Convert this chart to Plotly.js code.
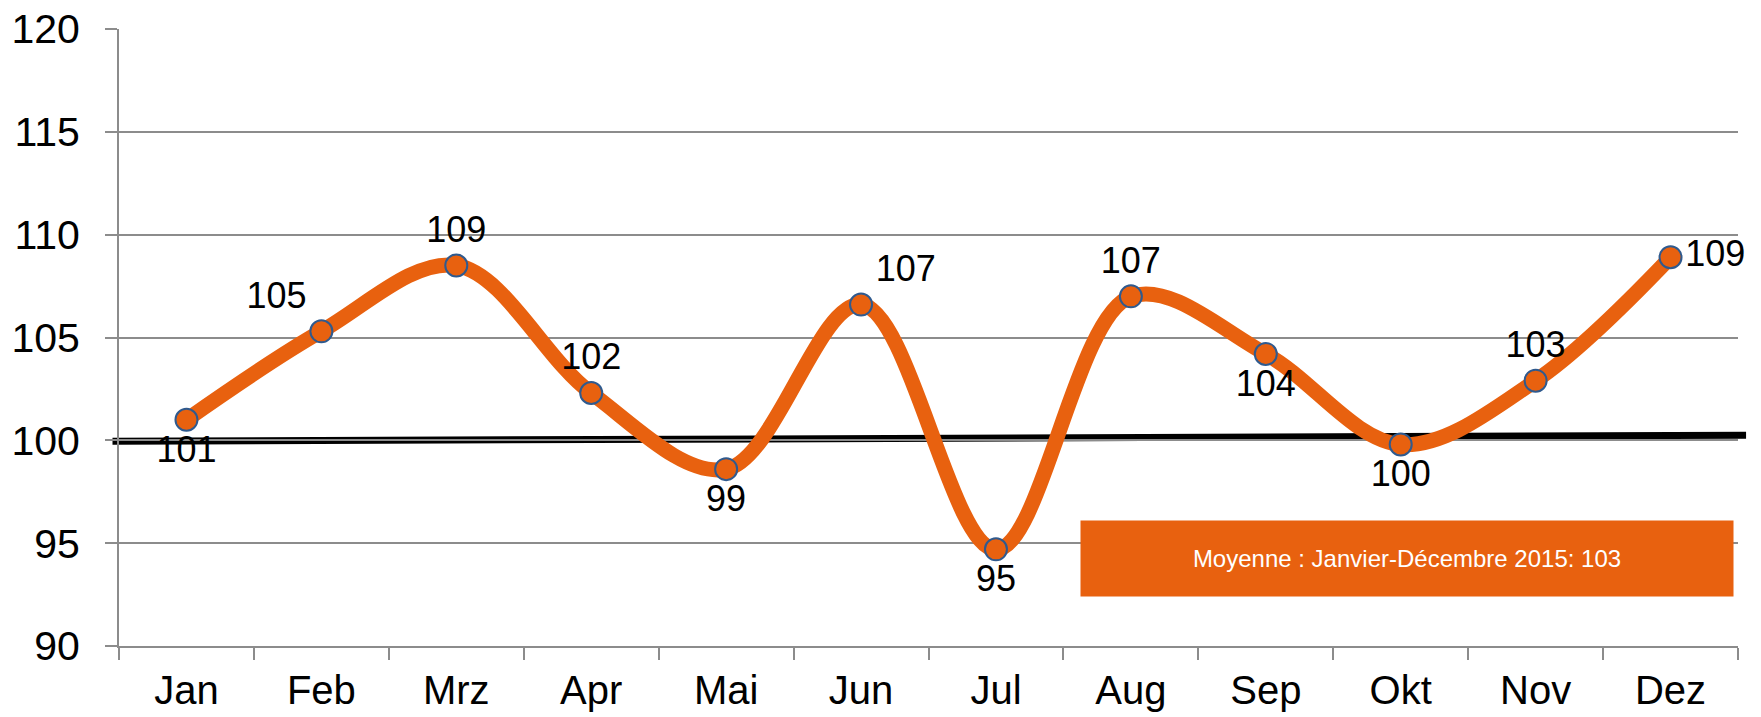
<!DOCTYPE html>
<html>
<head>
<meta charset="utf-8">
<script src="https://cdn.plot.ly/plotly-3.0.1.min.js"></script>
<style>
  html, body { margin: 0; padding: 0; background: #ffffff; }
  #chart { width: 1761px; height: 717px; }
</style>
</head>
<body>
<div id="chart"></div>
<script>
// ---- data ----
const months = ["Jan", "Feb", "Mrz", "Apr", "Mai", "Jun", "Jul", "Aug", "Sep", "Okt", "Nov", "Dez"];
const values = [101.0, 105.3, 108.5, 102.3, 98.6, 106.6, 94.7, 107.0, 104.2, 99.8, 102.9, 108.9];
const labelPositions = ["bottom center", "top left", "top center", "top center", "bottom center", "top right",
                        "bottom center", "top center", "bottom center", "bottom center", "top center", "middle right"];
const refLine = [99.95, 100.25];          // black reference line, start / end
const averageText = "Moyenne : Janvier-Décembre 2015: 103";
const yTicks = [90, 95, 100, 105, 110, 115, 120];

const ORANGE = "#E8610F";
const GRID = "#8C8C8C";
const FONT = "Liberation Sans, Arial, sans-serif";

const trace = {
  type: "scatter",
  mode: "lines+markers+text",
  x: months,
  y: values,
  text: values.map(v => String(Math.round(v))),
  textposition: labelPositions,
  textfont: { family: FONT, size: 36, color: "#000000" },
  line: { color: ORANGE, width: 15, shape: "spline", smoothing: 1 },
  marker: { color: ORANGE, size: 22, line: { color: "#2F5A8E", width: 2 } },
  cliponaxis: false,
  hoverinfo: "x+y",
  showlegend: false
};

const layout = {
  width: 1761,
  height: 717,
  margin: { l: 119, r: 23, t: 29, b: 71, pad: 0 },
  paper_bgcolor: "#ffffff",
  plot_bgcolor: "#ffffff",
  font: { family: FONT, color: "#000000" },
  showlegend: false,
  xaxis: {
    type: "category",
    range: [-0.5, months.length - 0.5],
    tickson: "boundaries",
    ticks: "outside",
    ticklen: 12,
    tickwidth: 2,
    tickcolor: GRID,
    showline: true,
    linecolor: GRID,
    linewidth: 2,
    showgrid: false,
    zeroline: false,
    tickfont: { family: FONT, size: 40, color: "#000000" },
    ticklabelstandoff: 8,
    fixedrange: true
  },
  yaxis: {
    range: [90, 120],
    tickvals: yTicks,
    ticktext: yTicks.map(String),
    ticks: "outside",
    ticklen: 12,
    tickwidth: 2,
    tickcolor: GRID,
    showline: true,
    linecolor: GRID,
    linewidth: 2,
    showgrid: true,
    gridcolor: GRID,
    gridwidth: 2,
    zeroline: false,
    tickfont: { family: FONT, size: 41, color: "#000000" },
    ticklabelstandoff: 17,
    fixedrange: true
  },
  shapes: [
    {
      type: "line", xref: "paper", yref: "y",
      x0: -0.004, x1: 1.005, y0: refLine[0], y1: refLine[1],
      line: { color: "#000000", width: 7 },
      layer: "below"
    }
  ],
  annotations: [
    {
      xref: "paper", yref: "paper",
      x: 0.9975, xanchor: "right",
      y: 0.204, yanchor: "top",
      text: averageText,
      showarrow: false,
      bgcolor: ORANGE,
      width: 652, height: 75,
      borderpad: 0,
      align: "center", valign: "middle",
      font: { family: FONT, size: 24, color: "#ffffff" }
    }
  ]
};

Plotly.newPlot("chart", [trace], layout, { staticPlot: true, displayModeBar: false });
</script>
</body>
</html>
